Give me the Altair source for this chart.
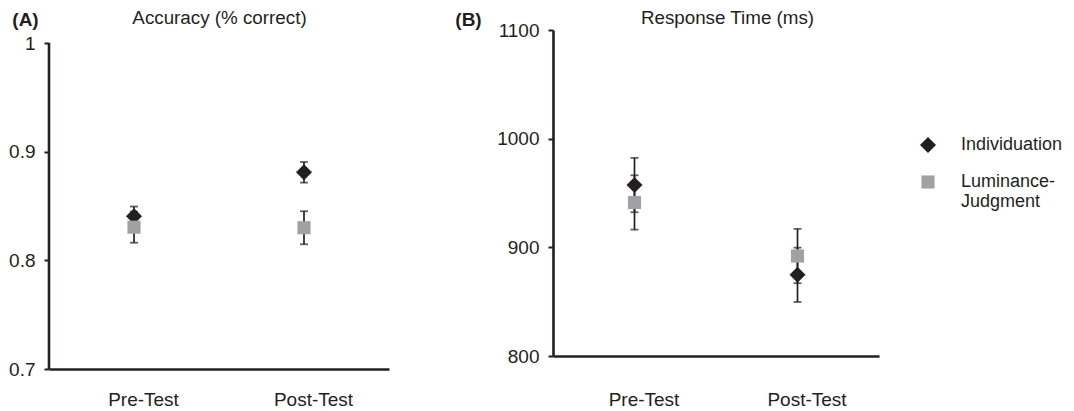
import altair as alt
import pandas as pd

# ---- data ----
tests = ["Pre-Test", "Post-Test"]
groups = ["Individuation", "Luminance-Judgment"]

acc_ind = [0.8405, 0.881]
acc_ind_se = [0.009, 0.0095]
acc_lum = [0.8305, 0.830]
acc_lum_se = [0.0143, 0.0152]

rt_ind = [957.3, 874.7]
rt_ind_se = [25, 25]
rt_lum = [941.3, 892.0]
rt_lum_se = [25, 25]

acc_ticks = [0.7, 0.8, 0.9, 1.0]
rt_ticks = [800, 900, 1000, 1100]

INK = "#231f20"
GRAY = "#a0a1a4"
FONT = "Liberation Sans"


def frame(ind, ind_se, lum, lum_se):
    rows = []
    for g, m, s in [(groups[0], ind, ind_se), (groups[1], lum, lum_se)]:
        for t, mv, sv in zip(tests, m, s):
            rows.append({"test": t, "group": g, "mean": mv, "lo": mv - sv, "hi": mv + sv})
    return pd.DataFrame(rows)


shape_scale = alt.Scale(
    domain=groups,
    range=["M0,-1L1,0L0,1L-1,0Z", "M-0.82,-0.82L0.82,-0.82L0.82,0.82L-0.82,0.82Z"],
)
color_scale = alt.Scale(domain=groups, range=[INK, GRAY])


def panel(df, ticks, top_extra, fmt, w, h, title, title_dx, tag, tag_x,
          xlab_pad, legend, own_domain_rule):
    lo_v, hi_v = ticks[0], ticks[-1]
    span = hi_v - lo_v
    dom_top = hi_v + span * top_extra
    yscale = alt.Scale(domain=[lo_v, dom_top], nice=False, zero=False)
    yaxis = alt.Axis(
        values=ticks, format=fmt, grid=False,
        title=tag, titleAngle=0, titleX=tag_x, titleY=-5,
        titleAlign="center", titleBaseline="alphabetic",
        titleFont=FONT, titleFontSize=19, titleFontWeight="bold", titleColor=INK,
        labelFont=FONT, labelFontSize=19, labelColor=INK, labelPadding=9,
        tickSize=5, tickWidth=2, tickColor=INK,
        domain=not own_domain_rule, domainColor=INK, domainWidth=2.6,
    )
    xenc = alt.X(
        "test:N", sort=tests,
        scale=alt.Scale(type="point", padding=0.5),
        axis=alt.Axis(
            title=title, titleX=w / 2 + title_dx, titleY=-(h + 7),
            titleAlign="center", titleBaseline="alphabetic", titleAngle=0,
            titleFont=FONT, titleFontSize=18.8, titleFontWeight="normal", titleColor=INK,
            labelAngle=0, ticks=False, tickSize=0,
            labelPadding=xlab_pad, labelOffset=9,
            labelFont=FONT, labelFontSize=19, labelColor=INK,
            domainColor=INK, domainWidth=2.6, grid=False,
        ),
    )
    base = alt.Chart(df)
    bars = base.mark_rule(color=INK, strokeWidth=1.7).encode(
        x=xenc,
        y=alt.Y("lo:Q", scale=yscale, axis=yaxis),
        y2="hi:Q",
    )
    cap_lo = base.mark_tick(color=INK, size=8, thickness=1.8).encode(
        x=xenc, y=alt.Y("lo:Q", scale=yscale, axis=yaxis)
    )
    cap_hi = base.mark_tick(color=INK, size=8, thickness=1.8).encode(
        x=xenc, y=alt.Y("hi:Q", scale=yscale, axis=yaxis)
    )
    pts = base.mark_point(filled=True, size=256, opacity=1, strokeWidth=0).encode(
        x=xenc,
        y=alt.Y("mean:Q", scale=yscale, axis=yaxis),
        shape=alt.Shape("group:N", scale=shape_scale, legend=legend),
        color=alt.Color("group:N", scale=color_scale, legend=legend),
        order=alt.Order("gi:Q"),
    ).transform_calculate(gi="indexof(['Individuation','Luminance-Judgment'], datum.group)")
    layers = [bars, cap_lo, cap_hi, pts]
    if own_domain_rule:
        axis_df = pd.DataFrame({"y0": [lo_v], "y1": [hi_v]})
        rule = alt.Chart(axis_df).mark_rule(color=INK, strokeWidth=2.6).encode(
            x=alt.value(0),
            y=alt.Y("y0:Q", scale=yscale, axis=yaxis),
            y2="y1:Q",
        )
        layers = [rule] + layers
    return alt.layer(*layers).properties(width=w, height=h)


legend_b = alt.Legend(
    title=None, orient="none", legendX=366, legendY=106,
    labelFont=FONT, labelFontSize=18, labelColor=INK, labelOffset=24,
    symbolSize=256, symbolStrokeWidth=0, rowPadding=19, labelLimit=300,
    labelExpr="datum.label == 'Luminance-Judgment' ? ['Luminance-', 'Judgment'] : datum.label",
)

chart_a = panel(frame(acc_ind, acc_ind_se, acc_lum, acc_lum_se), acc_ticks, 13 / 326,
                ".1~f", 340, 339, "Accuracy (% correct)", 0, "(A)", -24, 21, None, True)
chart_b = panel(frame(rt_ind, rt_ind_se, rt_lum, rt_lum_se), rt_ticks, 0,
                "d", 326, 326, "Response Time (ms)", 11, "(B)", -85, 34, legend_b, False)

chart = alt.hconcat(chart_a, chart_b, spacing=65).resolve_scale(
    shape="independent", color="independent"
).properties(padding=0, background="white").configure_view(stroke=None)

chart.save("out.html", embed_options={"renderer": "svg", "actions": False})
